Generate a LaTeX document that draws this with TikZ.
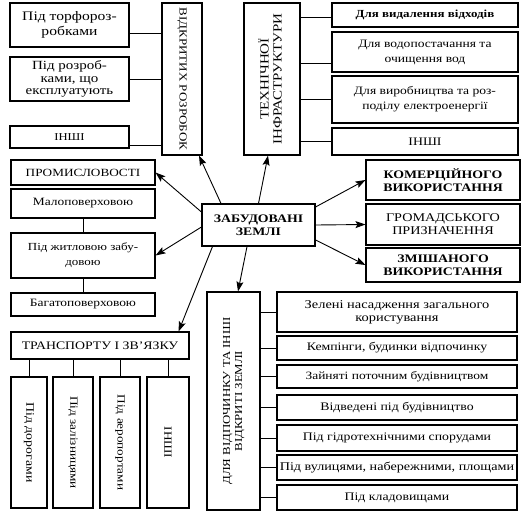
\documentclass[tikz,border=0pt]{standalone}
\usepackage{fontspec}
\setmainfont[FakeStretch=1.2]{Liberation Serif}
\usetikzlibrary{arrows.meta}
\newcommand\fsz[2]{\fontsize{#1}{#2}\selectfont}
\begin{document}
\begin{tikzpicture}[x=1pt,y=-1pt,
  box/.style={draw, line width=1.1pt, inner sep=0pt, align=center, fill=white},
  conn/.style={line width=0.8pt},
  arr/.style={line width=0.9pt, -{Stealth[length=10pt,width=7pt,inset=2pt]}}]
\fill[white] (0,0) rectangle (532,520);
\useasboundingbox (0,0) rectangle (532,520);
% top-left group
\node[box, minimum width=119, minimum height=44, font=\fsz{13}{15}] (tor) at (69.5,25) {Під торфороз-\\робками};
\node[box, minimum width=119, minimum height=44, font=\fsz{12.5}{12.5}] (rozr) at (69.5,79) {Під розроб-\\ками, що\\експлуатують};
\node[box, minimum width=119, minimum height=22, font=\fsz{10.5}{12}] (inshia) at (69.5,137) {ІНШІ};
\node[box, minimum width=40, minimum height=152, font=\fsz{10.8}{12}] (vidkr) at (182,79) {\rotatebox{-90}{ВІДКРИТИХ РОЗРОБОК}};
% top-right group
\node[box, minimum width=56, minimum height=152, font=\fsz{12.5}{15}] (tech) at (272,79) {\rotatebox{90}{\begin{tabular}{@{}c@{}}ТЕХНІЧНОЇ\\[-2pt]ІНФРАСТРУКТУРИ\end{tabular}}};
\node[box, minimum width=186, minimum height=24, font=\bfseries\fsz{10.8}{12}] (vydal) at (425,15) {Для видалення відходів};
\node[box, minimum width=186, minimum height=40, font=\fsz{11.3}{15}] (vodo) at (425,52) {Для водопостачання та\\очищення вод};
\node[box, minimum width=186, minimum height=47, font=\fsz{11.3}{15}] (vyrob) at (425,99.5) {Для виробництва та роз-\\поділу електроенергії};
\node[box, minimum width=186, minimum height=27, font=\fsz{11.5}{13}] (inshib) at (425,141.5) {ІНШІ};
% middle-left group
\node[box, minimum width=144, minimum height=25, font=\fsz{11}{12}] (prom) at (83,172.5) {ПРОМИСЛОВОСТІ};
\node[box, minimum width=144, minimum height=29, font=\fsz{11.2}{12}] (malo) at (83,203.5) {Малоповерховою};
\node[box, minimum width=144, minimum height=45, font=\fsz{10.8}{15}] (zhytl) at (83,255.5) {Під житловою забу-\\довою};
\node[box, minimum width=144, minimum height=23, font=\fsz{11.2}{12}] (bahato) at (83,304.5) {Багатоповерховою};
% centre
\node[box, minimum width=113, minimum height=42, font=\bfseries\fsz{11.5}{13}] (center) at (258.5,225) {ЗАБУДОВАНІ\\ЗЕМЛІ};
% middle-right group
\node[box, minimum width=154, minimum height=40, font=\bfseries\fsz{11.5}{13}] (kom) at (443,180) {КОМЕРЦІЙНОГО\\ВИКОРИСТАННЯ};
\node[box, minimum width=154, minimum height=41, font=\fsz{11.8}{13}] (hrom) at (443,224.5) {ГРОМАДСЬКОГО\\ПРИЗНАЧЕННЯ};
\node[box, minimum width=154, minimum height=34, font=\bfseries\fsz{11.5}{13}] (zmish) at (443,265) {ЗМІШАНОГО\\ВИКОРИСТАННЯ};
% transport group
\node[box, minimum width=178, minimum height=27, font=\fsz{11.5}{12}] (transp) at (100,345.5) {ТРАНСПОРТУ І ЗВ'ЯЗКУ};
\node[box, minimum width=36, minimum height=131, font=\fsz{11.5}{12}] (dor) at (29,442.5) {\rotatebox{-90}{Під дорогами}};
\node[box, minimum width=40, minimum height=131, font=\fsz{11}{12}] (zal) at (73,442.5) {\rotatebox{-90}{Під залізницями}};
\node[box, minimum width=40, minimum height=131, font=\fsz{11}{12}] (aero) at (120,442.5) {\rotatebox{-90}{Під аеропортами}};
\node[box, minimum width=42, minimum height=131, font=\fsz{11}{12}] (inshic) at (168,442.5) {\rotatebox{-90}{ІНШІ}};
% recreation group
\node[box, minimum width=53, minimum height=218, font=\fsz{10.7}{13}] (vidp) at (233.5,401) {\rotatebox{90}{\begin{tabular}{@{}c@{}}ДЛЯ ВІДПОЧИНКУ ТА ІНШІ\\[-1pt]ВІДКРИТІ ЗЕМЛІ\end{tabular}}};
\node[box, minimum width=240, minimum height=40, font=\fsz{12}{13}] (zel) at (397,312) {Зелені насадження загального\\користування};
\node[box, minimum width=240, minimum height=24, font=\fsz{11.5}{12}] (kemp) at (397,348) {Кемпінги, будинки відпочинку};
\node[box, minimum width=240, minimum height=23, font=\fsz{11.2}{12}] (zain) at (397,376.5) {Зайняті поточним будівництвом};
\node[box, minimum width=240, minimum height=25, font=\fsz{11.5}{12}] (vidv) at (397,407.5) {Відведені під будівництво};
\node[box, minimum width=240, minimum height=26, font=\fsz{11.5}{12}] (hidr) at (397,438) {Під гідротехнічними спорудами};
\node[box, minimum width=240, minimum height=25, font=\fsz{11.8}{12}] (vul) at (397,467.5) {Під вулицями, набережними, площами};
\node[box, minimum width=240, minimum height=25, font=\fsz{11.5}{12}] (klad) at (397,497.5) {Під кладовищами};
% connectors
\draw[conn] ([yshift=-8pt]tor.east) -- ([yshift=-8pt]tor.east -| vidkr.west);
\draw[conn] (rozr.east) -- (rozr.east -| vidkr.west);
\draw[conn] ([yshift=-8pt]inshia.east) -- ([yshift=-8pt]inshia.east -| vidkr.west);
\draw[conn] ([yshift=-2pt]vydal.west) -- ([yshift=-2pt]vydal.west -| tech.east);
\draw[conn] ([yshift=-11pt]vodo.west) -- ([yshift=-11pt]vodo.west -| tech.east);
\draw[conn] (vyrob.west) -- (vyrob.west -| tech.east);
\draw[conn] (inshib.west) -- (inshib.west -| tech.east);
\draw[conn] (malo.south) -- (zhytl.north);
\draw[conn] (zhytl.south) -- (bahato.north);
\foreach \n in {dor,zal,aero,inshic} \draw[conn] (\n.north) -- (\n.north |- transp.south);
\foreach \n in {zel,kemp,zain,vidv,hidr,vul,klad} \draw[conn] (\n.west) -- (\n.west -| vidp.east);
% arrows
\draw[arr] ([xshift=-37.5pt]center.north) -- ([xshift=17pt]vidkr.south);
\draw[arr] (center.north) -- ([xshift=-4pt]tech.south);
\draw[arr] ([yshift=13pt]center.west) -- (prom.east);
\draw[arr] ([yshift=-2pt]center.west) -- (zhytl.east);
\draw[arr] ([xshift=-46pt]center.south) -- ([xshift=-11pt]transp.north east);
\draw[arr] ([xshift=-11.5pt]center.south) -- ([xshift=4.5pt]vidp.north);
\draw[arr] ([yshift=18pt]center.east) -- (kom.west);
\draw[arr] (center.east) -- (hrom.west);
\draw[arr] ([yshift=-15pt]center.east) -- (zmish.west);
\end{tikzpicture}
\end{document}
